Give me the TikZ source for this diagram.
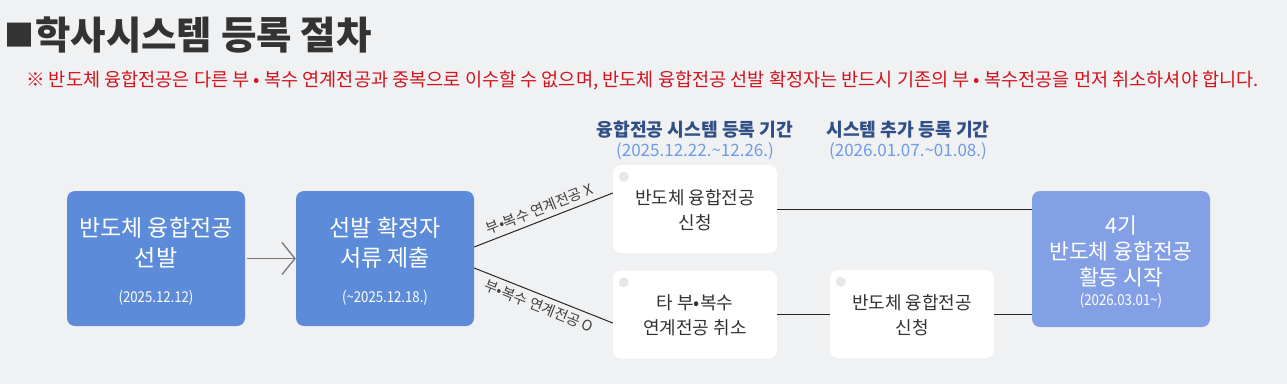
\documentclass[tikz,border=0pt]{standalone}
\usepackage{fontspec}
\setmainfont{Noto Sans CJK KR}
\usetikzlibrary{arrows.meta,calc}
\definecolor{bg}{HTML}{F0F1F3}
\definecolor{boxblue}{HTML}{5B8BD9}
\definecolor{boxlight}{HTML}{83A0E6}
\definecolor{titlegray}{HTML}{333333}
\definecolor{notered}{HTML}{D3141E}
\definecolor{headblue}{HTML}{2F4F86}
\definecolor{dateblue}{HTML}{6E9BE5}
\definecolor{dotgray}{HTML}{E6E7EA}
\definecolor{linegray}{HTML}{777777}
\newcommand{\narrowdate}[1]{\scalebox{0.88}[1]{#1}}
\tikzset{
  bluebox/.style={fill=boxblue, rounded corners=8pt, draw=none, minimum width=178pt, minimum height=135pt, inner sep=0pt},
  lightbox/.style={fill=boxlight, rounded corners=8pt, draw=none, minimum width=178pt, minimum height=136pt, inner sep=0pt},
  whitebox/.style={fill=white, rounded corners=8pt, draw=none, minimum width=164pt, minimum height=88pt, inner sep=0pt},
  wtext/.style={text=white, align=center, font=\fontsize{23}{30}\selectfont, inner sep=0pt},
  wdate/.style={text=white, font=\fontsize{15}{17}\selectfont, inner sep=0pt},
  dtext/.style={text=titlegray, align=center, font=\fontsize{18}{25}\selectfont, inner sep=0pt},
  conn/.style={draw=black!85, line width=1pt},
  clabel/.style={text=black!75, font=\fontsize{14.5}{16}\selectfont, sloped, inner sep=4.5pt},
  dot/.style={circle, fill=dotgray, minimum size=10pt, inner sep=0pt},
  headtext/.style={text=headblue, font=\fontsize{18.2}{20}\selectfont\bfseries, inner sep=0pt},
  headdate/.style={text=dateblue, font=\fontsize{17}{19}\selectfont, inner sep=0pt}
}
\begin{document}
\begin{tikzpicture}[x=1pt,y=-1pt]
\fill[bg] (0,0) rectangle (1287,384);
\useasboundingbox (0,0) rectangle (1287,384);

\node[anchor=west, text=titlegray, font=\fontsize{30}{32}\selectfont, inner sep=0pt] (sq) at (4,35) {■};
\node[anchor=west, text=titlegray, font=\fontsize{38.5}{40}\selectfont\bfseries, inner sep=0pt] (title) at (35,35) {학사시스템 등록 절차};
\node[anchor=west, text=notered, font=\fontsize{18.6}{20}\selectfont, inner sep=0pt] (note) at (26,80) {※ 반도체 융합전공은 다른 부 • 복수 연계전공과 중복으로 이수할 수 없으며, 반도체 융합전공 선발 확정자는 반드시 기존의 부 • 복수전공을 먼저 취소하셔야 합니다.};

% header labels
\node[headtext] (h1) at (695,130) {융합전공 시스템 등록 기간};
\node[headdate] (h1d) at (695,151) {(2025.12.22.\textasciitilde12.26.)};
\node[headtext] (h2) at (908,130) {시스템 추가 등록 기간};
\node[headdate] (h2d) at (908,151) {(2026.01.07.\textasciitilde01.08.)};

% boxes
\node[bluebox] (b1) at (156,258.5) {};
\node[wtext] (b1t) at (156,243) {반도체 융합전공\\선발};
\node[wdate] (b1d) at (156,298) {\narrowdate{(2025.12.12)}};

\node[bluebox] (b2) at (385,258.5) {};
\node[wtext] (b2t) at (385,243) {선발 확정자\\서류 제출};
\node[wdate] (b2d) at (385,298) {\narrowdate{(\textasciitilde2025.12.18.)}};

\node[whitebox] (b3) at (695,209) {};
\node[dtext] (b3t) at (695,210.5) {반도체 융합전공\\신청};
\node[dot] (b3c) at ($(b3.north west)+(11,12)$) {};

\node[whitebox] (b4) at (695,314.5) {};
\node[dtext] (b4t) at (695,315.5) {타 부•복수\\연계전공 취소};
\node[dot] (b4c) at ($(b4.north west)+(11,12)$) {};

\node[whitebox] (b5) at (912,314) {};
\node[dtext] (b5t) at (912,315.5) {반도체 융합전공\\신청};
\node[dot] (b5c) at ($(b5.north west)+(11,12)$) {};

\node[lightbox] (b6) at (1121,259) {};
\node[text=white, align=center, font=\fontsize{21.5}{26}\selectfont, inner sep=0pt] (b6t) at (1121,251) {4기\\반도체 융합전공\\활동 시작};
\node[wdate] (b6d) at (1121,301) {\narrowdate{(2026.03.01\textasciitilde)}};

% connectors
\draw[draw=linegray, line width=1.3pt, -{Straight Barb[length=13pt,width=32pt,line width=1.3pt]}] ([xshift=2pt]b1.east) -- (b2.west);
\draw[conn] ([yshift=11.5pt]b2.east) -- node[clabel, above] {부•복수 연계전공 X} ([yshift=16pt]b3.west);
\draw[conn] ([yshift=-9.5pt]b2.east) -- node[clabel, below] {부•복수 연계전공 O} ([yshift=-8.5pt]b4.west);
\draw[conn] (b3.east) -- ([yshift=50pt]b6.west);
\draw[conn] (b4.east) -- ([yshift=-0.5pt]b5.west);
\draw[conn] (b5.east) -- ([yshift=-55pt]b6.west);
\end{tikzpicture}
\end{document}
